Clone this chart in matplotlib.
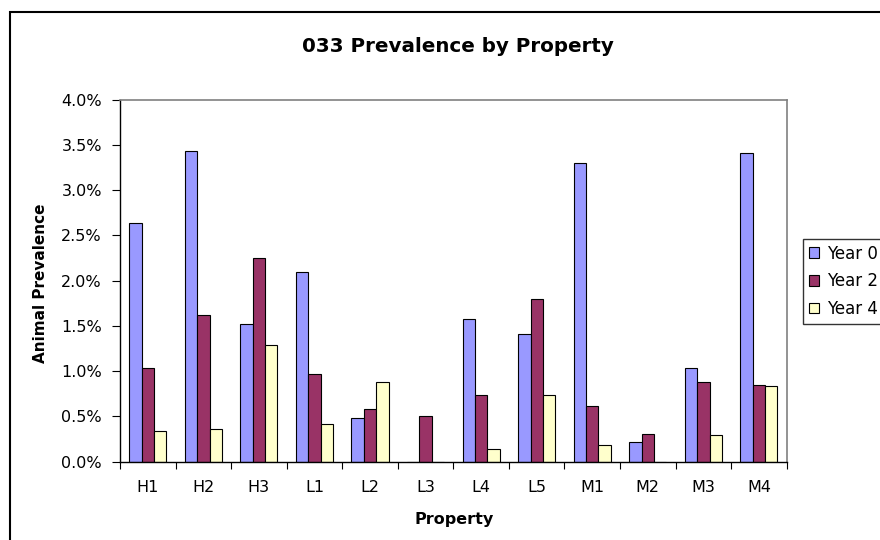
import matplotlib
matplotlib.use("Agg")
import matplotlib.pyplot as plt
from matplotlib.patches import Rectangle
from matplotlib.ticker import FuncFormatter, FixedLocator
import numpy as np

# data (fractions of animals)
properties = ["H1", "H2", "H3", "L1", "L2", "L3", "L4", "L5", "M1", "M2", "M3", "M4"]
year0 = [0.0264, 0.0343, 0.0152, 0.0210, 0.0048, 0.0, 0.0158, 0.0141, 0.0330, 0.0022, 0.0103, 0.0341]
year2 = [0.0103, 0.0162, 0.0225, 0.0097, 0.0058, 0.0051, 0.0074, 0.0180, 0.0061, 0.0031, 0.0088, 0.0085]
year4 = [0.0034, 0.0036, 0.0129, 0.0042, 0.0088, 0.0, 0.0014, 0.0074, 0.0018, 0.0, 0.0030, 0.0084]
series_names = ["Year 0", "Year 2", "Year 4"]
colors = ["#9999FF", "#993366", "#FFFFCC"]

# the reference text is a wide Arial; DejaVu Sans matches its proportions best
plt.rcParams["font.family"] = ["DejaVu Sans"]
fs = 11.5

W, H = 880, 540
fig = plt.figure(figsize=(W / 100, H / 100), dpi=100)
ax = fig.add_axes([120 / W, 1 - 461.7 / H, 666.7 / W, 362 / H])

x = np.arange(len(properties))
bw = 1 / 4.5
for i, (vals, name, c) in enumerate(zip([year0, year2, year4], series_names, colors)):
    ax.bar(x + (i - 1) * bw, vals, width=bw, color=c, edgecolor="black",
           linewidth=0.8, label=name)

ax.set_xlim(-0.5, len(properties) - 0.5)
ax.set_ylim(0, 0.04)
ax.set_yticks(np.arange(0, 0.0401, 0.005))
ax.yaxis.set_major_formatter(FuncFormatter(lambda v, p: f"{v * 100:.1f}%"))

# tick marks on category boundaries, labels in the middle
ax.xaxis.set_major_locator(FixedLocator(np.arange(-0.5, len(properties), 1)))
ax.set_xticklabels([])
ax.xaxis.set_minor_locator(FixedLocator(x))
ax.set_xticklabels(properties, minor=True)
ax.tick_params(axis="x", which="major", direction="out", length=5, width=0.8)
ax.tick_params(axis="x", which="minor", length=0, pad=13.5, labelsize=fs)
ax.tick_params(axis="y", direction="out", length=6, width=0.8, pad=7, labelsize=fs)

for s in ["top", "right"]:
    ax.spines[s].set_color("#808080")
    ax.spines[s].set_linewidth(1.2)
for s in ["left", "bottom"]:
    ax.spines[s].set_color("black")
    ax.spines[s].set_linewidth(1)

fig.text(458 / W, 1 - 51.7 / H, "033 Prevalence by Property", ha="center", va="baseline",
         fontsize=14.3, fontweight="bold")
fig.text(40.3 / W, 1 - 283 / H, "Animal Prevalence", ha="center", va="center",
         rotation=90, fontsize=11, fontweight="bold")
fig.text(453.7 / W, 1 - 524 / H, "Property", ha="center", va="baseline",
         fontsize=fs, fontweight="bold")

# legend sits partly outside the figure, as in the reference
leg = fig.legend(loc="upper left", bbox_to_anchor=(803 / W, 1 - 238.7 / H),
                 fontsize=12, frameon=True, fancybox=False, borderpad=0.35,
                 handlelength=0.6, handleheight=0.6, handletextpad=0.5,
                 labelspacing=0.58, borderaxespad=0)
leg.get_frame().set_edgecolor("black")
leg.get_frame().set_linewidth(1)

# outer chart border, running off the right and bottom edges
fig.patches.append(Rectangle((10 / W, -0.05), 1.1, 1 - 12 / H + 0.05,
                             transform=fig.transFigure, fill=False,
                             edgecolor="black", linewidth=1.5))

fig.savefig("out.png", dpi=100)
